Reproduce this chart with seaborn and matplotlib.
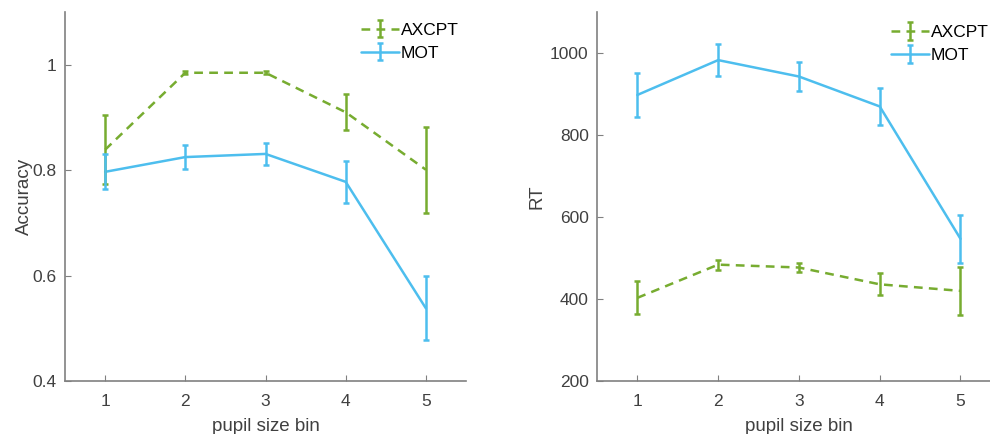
import numpy as np
import pandas as pd
import matplotlib
matplotlib.use("Agg")
import matplotlib.pyplot as plt
import seaborn as sns
from matplotlib.legend_handler import HandlerTuple

bins = [1, 2, 3, 4, 5]
acc_axcpt = [0.839, 0.985, 0.985, 0.910, 0.801]
acc_axcpt_err = [0.066, 0.003, 0.003, 0.034, 0.082]
acc_mot = [0.797, 0.825, 0.831, 0.778, 0.538]
acc_mot_err = [0.033, 0.022, 0.021, 0.040, 0.061]
rt_axcpt = [403, 484, 477, 436, 420]
rt_axcpt_err = [40, 12, 10, 27, 58]
rt_mot = [898, 983, 943, 870, 547]
rt_mot_err = [53, 39, 35, 46, 58]
acc_ticks = [0.4, 0.6, 0.8, 1.0]
acc_ticklabels = ["0.4", "0.6", "0.8", "1"]
rt_ticks = [200, 400, 600, 800, 1000]

GREEN = "#77AC30"
BLUE = "#4DBEEE"
AXC = "#808080"
TXT = "#404040"

sns.set_style("ticks")
plt.rcParams["font.family"] = ["Liberation Sans", "DejaVu Sans"]

fig = plt.figure(figsize=(9.9, 4.34), dpi=100)
ax1 = fig.add_axes([0.0657, 0.122, 0.405, 0.850])
ax2 = fig.add_axes([0.603, 0.122, 0.408, 0.850])

def panel(ax, a, ae, m, me, ylabel, ylim, ticks, ticklabels, anchor, ylpad):
    df = pd.DataFrame({"bin": bins * 2, "val": list(a) + list(m),
                       "task": ["AXCPT"] * 5 + ["MOT"] * 5})
    sns.lineplot(data=df, x="bin", y="val", hue="task", style="task",
                 palette={"AXCPT": GREEN, "MOT": BLUE},
                 dashes={"AXCPT": (3.5, 2.5), "MOT": ""},
                 linewidth=1.8, legend=False, ax=ax)
    e1 = ax.errorbar(bins, a, yerr=ae, fmt="none", ecolor=GREEN,
                     elinewidth=1.8, capsize=2.5, capthick=1.8)
    e2 = ax.errorbar(bins, m, yerr=me, fmt="none", ecolor=BLUE,
                     elinewidth=1.8, capsize=2.5, capthick=1.8)
    l1, l2 = ax.get_lines()[0], ax.get_lines()[1]
    ax.legend([(l1, e1), (l2, e2)], ["AXCPT", "MOT"],
              handler_map={tuple: HandlerTuple(ndivide=1)},
              loc="upper right", bbox_to_anchor=anchor,
              frameon=False, fontsize=12.5, handlelength=2.2,
              handletextpad=0.1, labelspacing=0.45, labelcolor="black",
              borderaxespad=0.3)
    ax.set_xlim(0.5, 5.5)
    ax.set_ylim(*ylim)
    ax.set_xticks(bins)
    ax.set_yticks(ticks)
    ax.set_yticklabels(ticklabels)
    ax.set_xlabel("pupil size bin", fontsize=13.5, color=TXT, labelpad=7)
    ax.set_ylabel(ylabel, fontsize=13.5, color=TXT, labelpad=ylpad)
    ax.tick_params(direction="in", length=4, width=0.8, colors=AXC,
                   labelcolor=TXT, labelsize=12.5)
    ax.tick_params(axis="x", pad=9)
    ax.tick_params(axis="y", pad=6)
    for s in ["top", "right"]:
        ax.spines[s].set_visible(False)
    for s in ["left", "bottom"]:
        ax.spines[s].set_color(AXC)
        ax.spines[s].set_linewidth(1.2)

panel(ax1, acc_axcpt, acc_axcpt_err, acc_mot, acc_mot_err, "Accuracy",
      (0.4, 1.1), acc_ticks, acc_ticklabels, (1.012, 1.005), 0)
panel(ax2, rt_axcpt, rt_axcpt_err, rt_mot, rt_mot_err, "RT",
      (200, 1100), rt_ticks, [str(t) for t in rt_ticks], (1.0, 0.998), 3)

fig.savefig("out.png", dpi=100)
